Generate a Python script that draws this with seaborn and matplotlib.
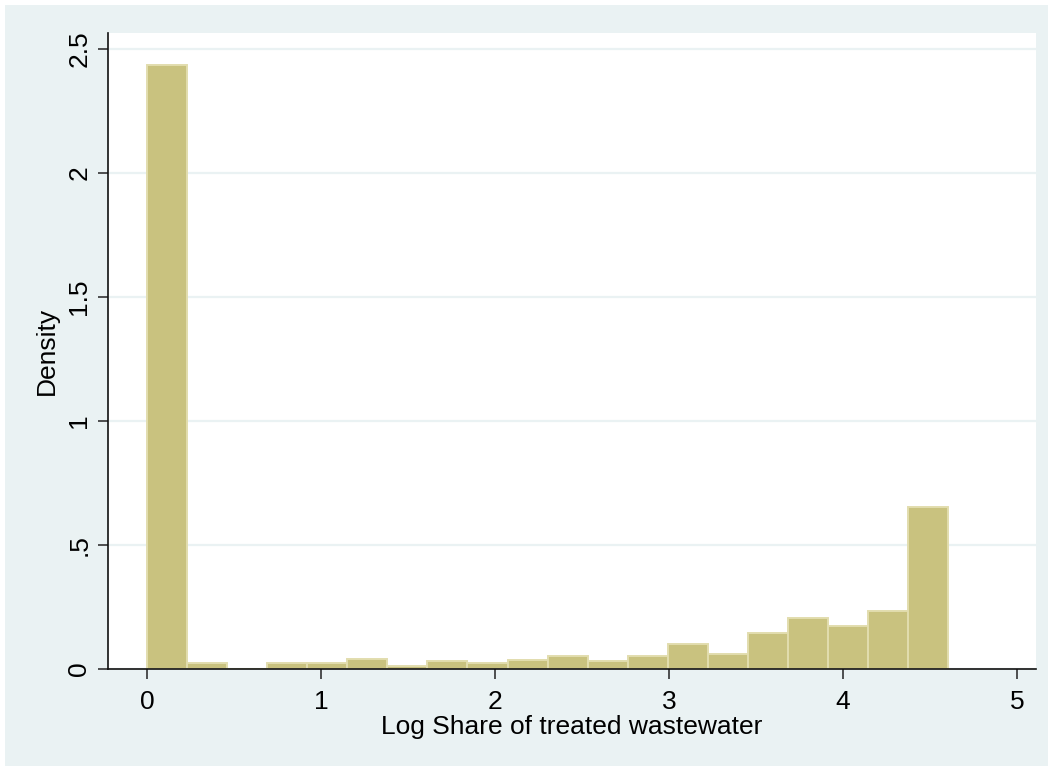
import numpy as np
import pandas as pd
import matplotlib
matplotlib.use("Agg")
import matplotlib.pyplot as plt
import seaborn as sns

# Densities (20 equal bins from 0 to log(100))
densities = [2.435, 0.024, 0.0, 0.024, 0.024, 0.040, 0.012, 0.032, 0.024, 0.036,
             0.052, 0.032, 0.052, 0.100, 0.060, 0.145, 0.205, 0.173, 0.234, 0.653]
x_max = np.log(100)
x_ticks = [0, 1, 2, 3, 4, 5]
y_ticks = [0, 0.5, 1, 1.5, 2, 2.5]
y_labels = ["0", ".5", "1", "1.5", "2", "2.5"]

edges = np.linspace(0, x_max, len(densities) + 1)
centers = (edges[:-1] + edges[1:]) / 2
df = pd.DataFrame({"x": centers, "w": densities})

bg = "#EAF2F3"
sns.set_style("white")
plt.rcParams["font.family"] = ["Liberation Sans", "DejaVu Sans"]

W, H = 1053, 771
fig = plt.figure(figsize=(W / 100, H / 100), dpi=100, facecolor="white")
# graph region (light blue-grey with a thin white margin)
fig.patches.append(plt.Rectangle((5 / W, 5 / H), (W - 10) / W, (H - 10) / H,
                                 transform=fig.transFigure, facecolor=bg,
                                 edgecolor="none", zorder=-10))
ax = fig.add_axes([108 / W, 1 - 669 / H, (1036 - 108) / W, (669 - 33) / H])
ax.set_facecolor("white")
for y in y_ticks:
    ax.axhline(y, color=bg, lw=1.6, zorder=0)

sns.histplot(data=df, x="x", weights="w", bins=list(edges), stat="count",
             color="#C9C27F", edgecolor="#E2DDAE", linewidth=1.4, alpha=1, ax=ax)

ax.set_xlim(-0.224, 5.11)
ax.set_ylim(0, 2.565)
ax.set_xticks(x_ticks)
ax.set_yticks(y_ticks)
ax.set_yticklabels(y_labels, rotation=90, va="center")
ax.tick_params(axis="both", direction="out", length=7, width=1.2, color="#333333",
               labelsize=19, labelcolor="black", pad=5, bottom=True, left=True)
ax.tick_params(axis="x", pad=8)
for s in ["top", "right"]:
    ax.spines[s].set_visible(False)
for s in ["left", "bottom"]:
    ax.spines[s].set_color("#111111")
    ax.spines[s].set_linewidth(1.2)
ax.set_xlabel("Log Share of treated wastewater", fontsize=19, color="black", labelpad=1)
ax.set_ylabel("Density", fontsize=19, color="black", labelpad=6)

fig.savefig("out.png", dpi=100, facecolor="white")
